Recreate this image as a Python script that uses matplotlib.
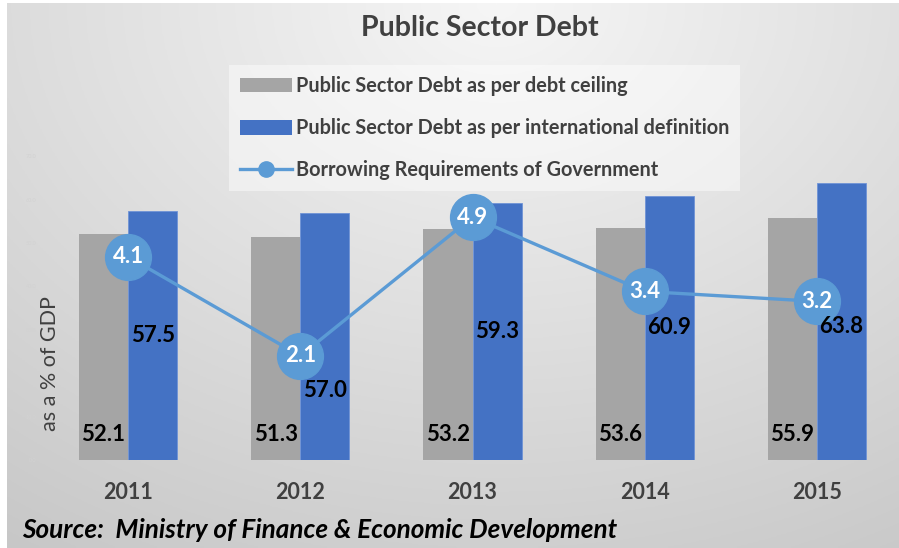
import numpy as np
import matplotlib
matplotlib.use('Agg')
import matplotlib.pyplot as plt
from matplotlib.patches import Patch
from matplotlib.lines import Line2D

plt.rcParams['font.family'] = ['Lato', 'DejaVu Sans']

years = ['2011', '2012', '2013', '2014', '2015']
debt_ceiling = [52.1, 51.3, 53.2, 53.6, 55.9]
debt_intl = [57.5, 57.0, 59.3, 60.9, 63.8]
borrowing = [4.1, 2.1, 4.9, 3.4, 3.2]
yticks = [0, 10, 20, 30, 40, 50, 60, 70]

gray = '#A5A5A5'
blue = '#4472C4'
lblue = '#5B9BD5'
dark = '#404040'

fig = plt.figure(figsize=(8.99, 5.48), dpi=100)

# background gradient
bg = fig.add_axes([7/899, 0, 1 - 7/899, 1 - 3/548])
xx, yy = np.meshgrid(np.linspace(0, 1, 300), np.linspace(1, 0, 200))
dist = np.sqrt(((xx - 0.55) * 1.1) ** 2 + ((yy - 1.0) * 0.9) ** 2)
shade = np.clip(0.965 - 0.17 * dist, 0, 1)
bg.imshow(np.dstack([shade] * 3), aspect='auto', extent=[0, 1, 0, 1])
bg.axis('off')

ax = fig.add_axes([42/899, 88/548, 861/899, 347/548])
ax.set_facecolor('none')
x = np.arange(len(years))
w = 0.285
ax.bar(x - w/2, debt_ceiling, w, color=gray, zorder=2)
ax.bar(x + w/2, debt_intl, w, color=blue, edgecolor='#6f93d6', linewidth=0.6, zorder=2)
ax.set_xlim(-0.5, 4.5)
ax.set_ylim(0, 80)
ax.set_yticks(yticks)
ax.set_yticklabels(['%.1f' % v for v in yticks], fontsize=4, color='#d2d2d2')
ax.tick_params(axis='y', length=0, pad=4)
ax.set_xticks(x)
ax.set_xticklabels(years, fontsize=15.5, fontweight='bold', color=dark)
ax.tick_params(axis='x', length=0, pad=16)
for s in ax.spines.values():
    s.set_visible(False)

ax2 = ax.twinx()
ax2.set_ylim(0, 7)
ax2.set_yticks([])
for s in ax2.spines.values():
    s.set_visible(False)
ax2.plot(x, borrowing, color=lblue, linewidth=2.4, marker='o', markersize=33,
         markerfacecolor=lblue, markeredgecolor=lblue, zorder=3)
for i in range(len(years)):
    ax2.text(x[i], borrowing[i], '%.1f' % borrowing[i], ha='center', va='center',
             fontsize=16, fontweight='bold', color='white', zorder=6)

# bar labels drawn over the line markers
blue_shift = [0, -12.5, 0, 0, -1.2]
for i in range(len(years)):
    ax2.text(x[i] - w/2, 5.8, '%.1f' % debt_ceiling[i], ha='center', va='center',
             fontsize=16, fontweight='bold', color='black', zorder=5,
             transform=ax.transData)
    ax2.text(x[i] + w/2, debt_intl[i] / 2 + blue_shift[i], '%.1f' % debt_intl[i],
             ha='center', va='center', fontsize=16, fontweight='bold', color='black',
             zorder=5, transform=ax.transData)

fig.text(0.534, 1 - 28/548, 'Public Sector Debt', ha='center', va='center',
         fontsize=20.5, fontweight='bold', color=dark)
fig.text(50/899, 1 - 364/548, 'as a % of GDP', rotation=90, ha='center', va='center',
         fontsize=15.5, color=dark)
fig.text(22/899, 1 - 530/548, 'Source:  Ministry of Finance & Economic Development',
         ha='left', va='center', fontsize=18.8, fontweight='bold', style='italic', color='black')

handles = [Patch(facecolor=gray), Patch(facecolor=blue),
           Line2D([0], [0], color=lblue, linewidth=2.4, marker='o', markersize=11)]
labels = ['Public Sector Debt as per debt ceiling',
          'Public Sector Debt as per international definition',
          'Borrowing Requirements of Government']
leg = fig.legend(handles, labels, loc='upper left', bbox_to_anchor=(229/899, 1 - 65/548),
                 frameon=True, fancybox=False, framealpha=0.45, facecolor='white',
                 edgecolor='none', fontsize=14.3, handlelength=2.6, handleheight=0.75,
                 labelspacing=1.12, handletextpad=0.2, borderpad=0.55, borderaxespad=0)
for t in leg.get_texts():
    t.set_fontweight('bold')
    t.set_color(dark)

fig.savefig('out.png', dpi=100)
